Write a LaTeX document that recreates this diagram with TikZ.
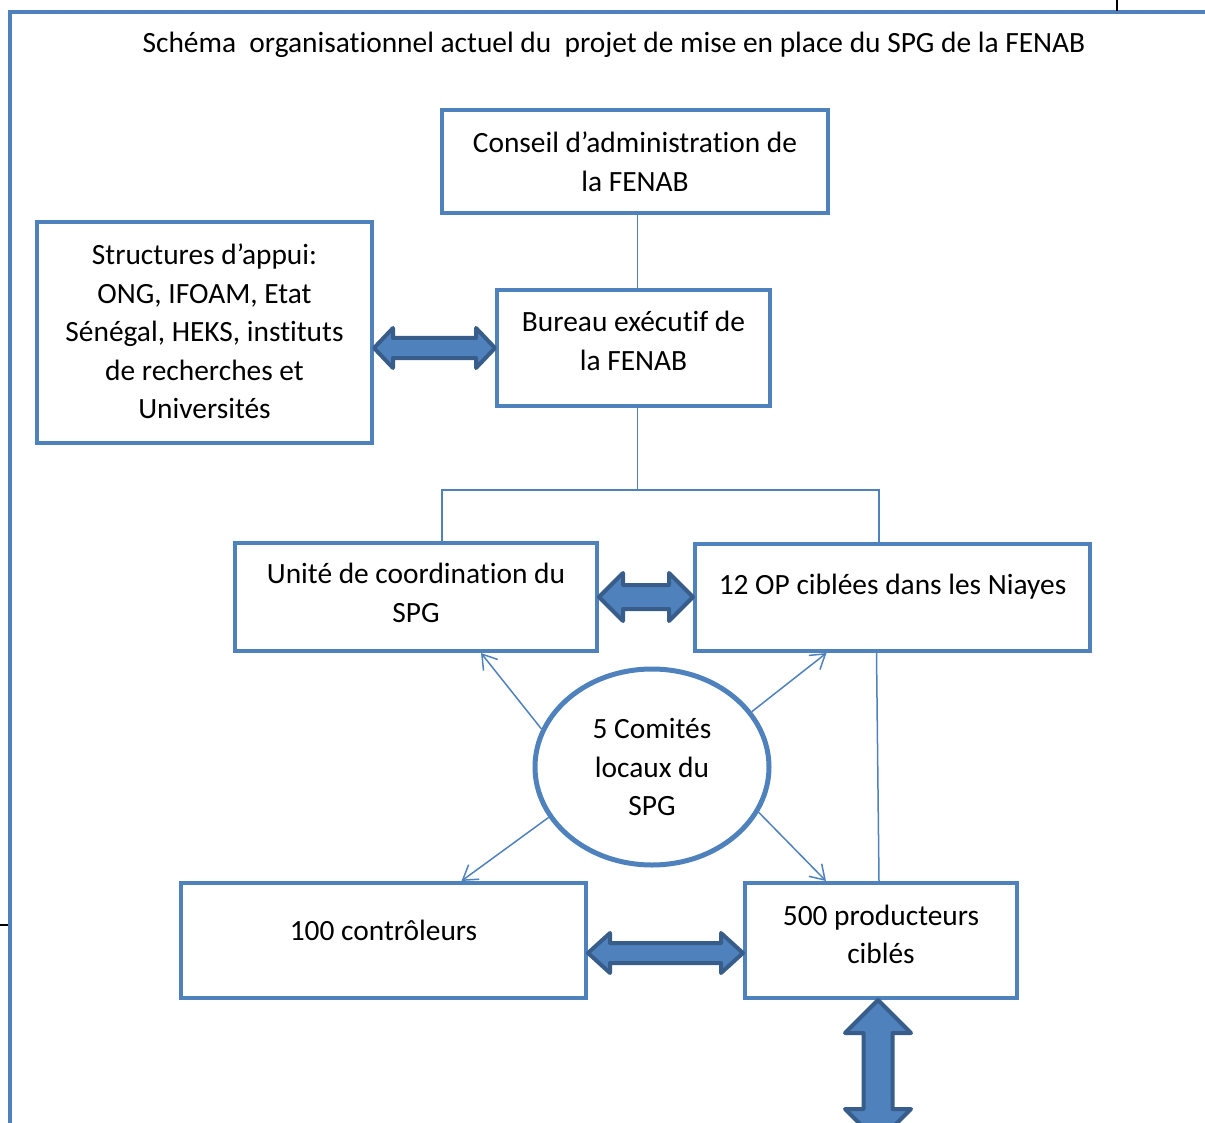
\documentclass[tikz,border=0pt]{standalone}
\usepackage{fontspec}
\setmainfont[Ligatures=NoCommon]{Carlito}
\usetikzlibrary{arrows.meta,calc,shapes.geometric}
\definecolor{boxblue}{HTML}{4F81BD}
\definecolor{darkblue}{HTML}{385D8A}

% fat double arrows: ends, shaft half width, head half width, head length
\newcommand{\hfat}[5]{%
  \draw[fatarr] let \p1=(#1), \p2=(#2) in
    (\x1,\y1) -- (\x1+#5pt,\y1+#4pt) -- (\x1+#5pt,\y1+#3pt) -- (\x2-#5pt,\y1+#3pt)
    -- (\x2-#5pt,\y1+#4pt) -- (\x2,\y1) -- (\x2-#5pt,\y1-#4pt) -- (\x2-#5pt,\y1-#3pt)
    -- (\x1+#5pt,\y1-#3pt) -- (\x1+#5pt,\y1-#4pt) -- cycle;}
\newcommand{\vfat}[5]{%
  \draw[fatarr] let \p1=(#1), \p2=(#2) in
    (\x1,\y1) -- (\x1+#4pt,\y1-#5pt) -- (\x1+#3pt,\y1-#5pt) -- (\x1+#3pt,\y2+#5pt)
    -- (\x1+#4pt,\y2+#5pt) -- (\x1,\y2) -- (\x1-#4pt,\y2+#5pt) -- (\x1-#3pt,\y2+#5pt)
    -- (\x1-#3pt,\y1-#5pt) -- (\x1-#4pt,\y1-#5pt) -- cycle;}

\begin{document}
\begin{tikzpicture}[x=1pt,y=-1pt,
    box/.style={draw=boxblue,line width=4pt,inner sep=0pt},
    lbl/.style={align=center,font=\fontsize{29.4}{38.5}\selectfont},
    link/.style={draw=boxblue,line width=1.5pt},
    >={Straight Barb[length=14pt,width=18pt]},
    fatarr/.style={draw=darkblue,fill=boxblue,line width=4pt,line join=round}]
  \useasboundingbox (0,0) rectangle (1205,1123);

  % page frame and marks
  \draw[boxblue,line width=4pt] (10,1125) -- (10,12) -- (1207,12);
  \draw[black,line width=1.2pt] (1117,0) -- (1117,11);
  \draw[black,line width=1.2pt] (0,925) -- (8,925);

  \node[lbl] (title) at (614,45) {Schéma\ \ organisationnel actuel du\ \ projet de mise en place du SPG de la FENAB};

  % boxes
  \node[box,minimum width=386,minimum height=103] (conseil) at (635,161.5) {};
  \node[lbl] (conseiltxt) at (conseil.center) {Conseil d’administration de\\la FENAB};

  \node[box,minimum width=335,minimum height=221] (appui) at (204.5,332.5) {};
  \node[lbl] (appuitxt) at ([yshift=1]appui.center) {Structures d’appui:\\ONG, IFOAM, Etat\\Sénégal, HEKS, instituts\\de recherches et\\Universités};

  \node[box,minimum width=273,minimum height=116] (bureau) at (633.5,348) {};
  \node[lbl] (bureautxt) at ([yshift=7]bureau.center) {Bureau exécutif de\\la FENAB};

  \node[box,minimum width=362,minimum height=108] (unite) at (416,597) {};
  \node[lbl] (unitetxt) at ([yshift=4]unite.center) {Unité de coordination du\\SPG};

  \node[box,minimum width=395,minimum height=107] (op) at (892.5,597.5) {};
  \node[lbl] (optxt) at ([yshift=11]op.center) {12 OP ciblées dans les Niayes};

  \node[draw=boxblue,line width=5pt,ellipse,minimum width=234,minimum height=196,inner sep=0pt] (comites) at (652,767) {};
  \node[lbl] (comitestxt) at (comites.center) {5 Comités\\locaux du\\SPG};

  \node[box,minimum width=405,minimum height=115] (ctrl) at (383.5,940.5) {};
  \node[lbl] (ctrltxt) at ([yshift=10]ctrl.center) {100 contrôleurs};

  \node[box,minimum width=272,minimum height=115] (prod) at (881,940.5) {};
  \node[lbl] (prodtxt) at ([yshift=6]prod.center) {500 producteurs\\ciblés};

  % hierarchy lines
  \coordinate (jl) at (442,490);
  \coordinate (jr) at (879,490);
  \draw[link] ([xshift=4]bureau.north) -- ([xshift=4]bureau.north |- conseil.south);
  \draw[link] ([xshift=4]bureau.south) -- ([xshift=4]bureau.south |- jl);
  \draw[link] (jl |- unite.north) -- (jl) -- (jr) -- (jr |- op.north);
  \draw[link] ([xshift=-16]op.south) -- ([xshift=-2]prod.north);

  % arrows from the local committees
  \draw[link,->] (comites.161) -- ([xshift=65]unite.south);
  \draw[link,->] (comites.29) -- ([xshift=-66]op.south);
  \draw[link,->] (comites.206) -- ([xshift=78]ctrl.north);
  \draw[link,->] (comites.337) -- ([xshift=-55]prod.north);

  % fat double arrows
  \hfat{appui.east |- bureau.west}{bureau.west}{10}{20}{19}
  \hfat{unite.east}{op.west}{12}{24}{24}
  \hfat{[yshift=-12.5]ctrl.east}{[yshift=-12.5]prod.west}{10}{20}{22}
  \vfat{[xshift=-3]prod.south}{[xshift=-3,yshift=-142]prod.south}{14.5}{33}{33}
\end{tikzpicture}
\end{document}
